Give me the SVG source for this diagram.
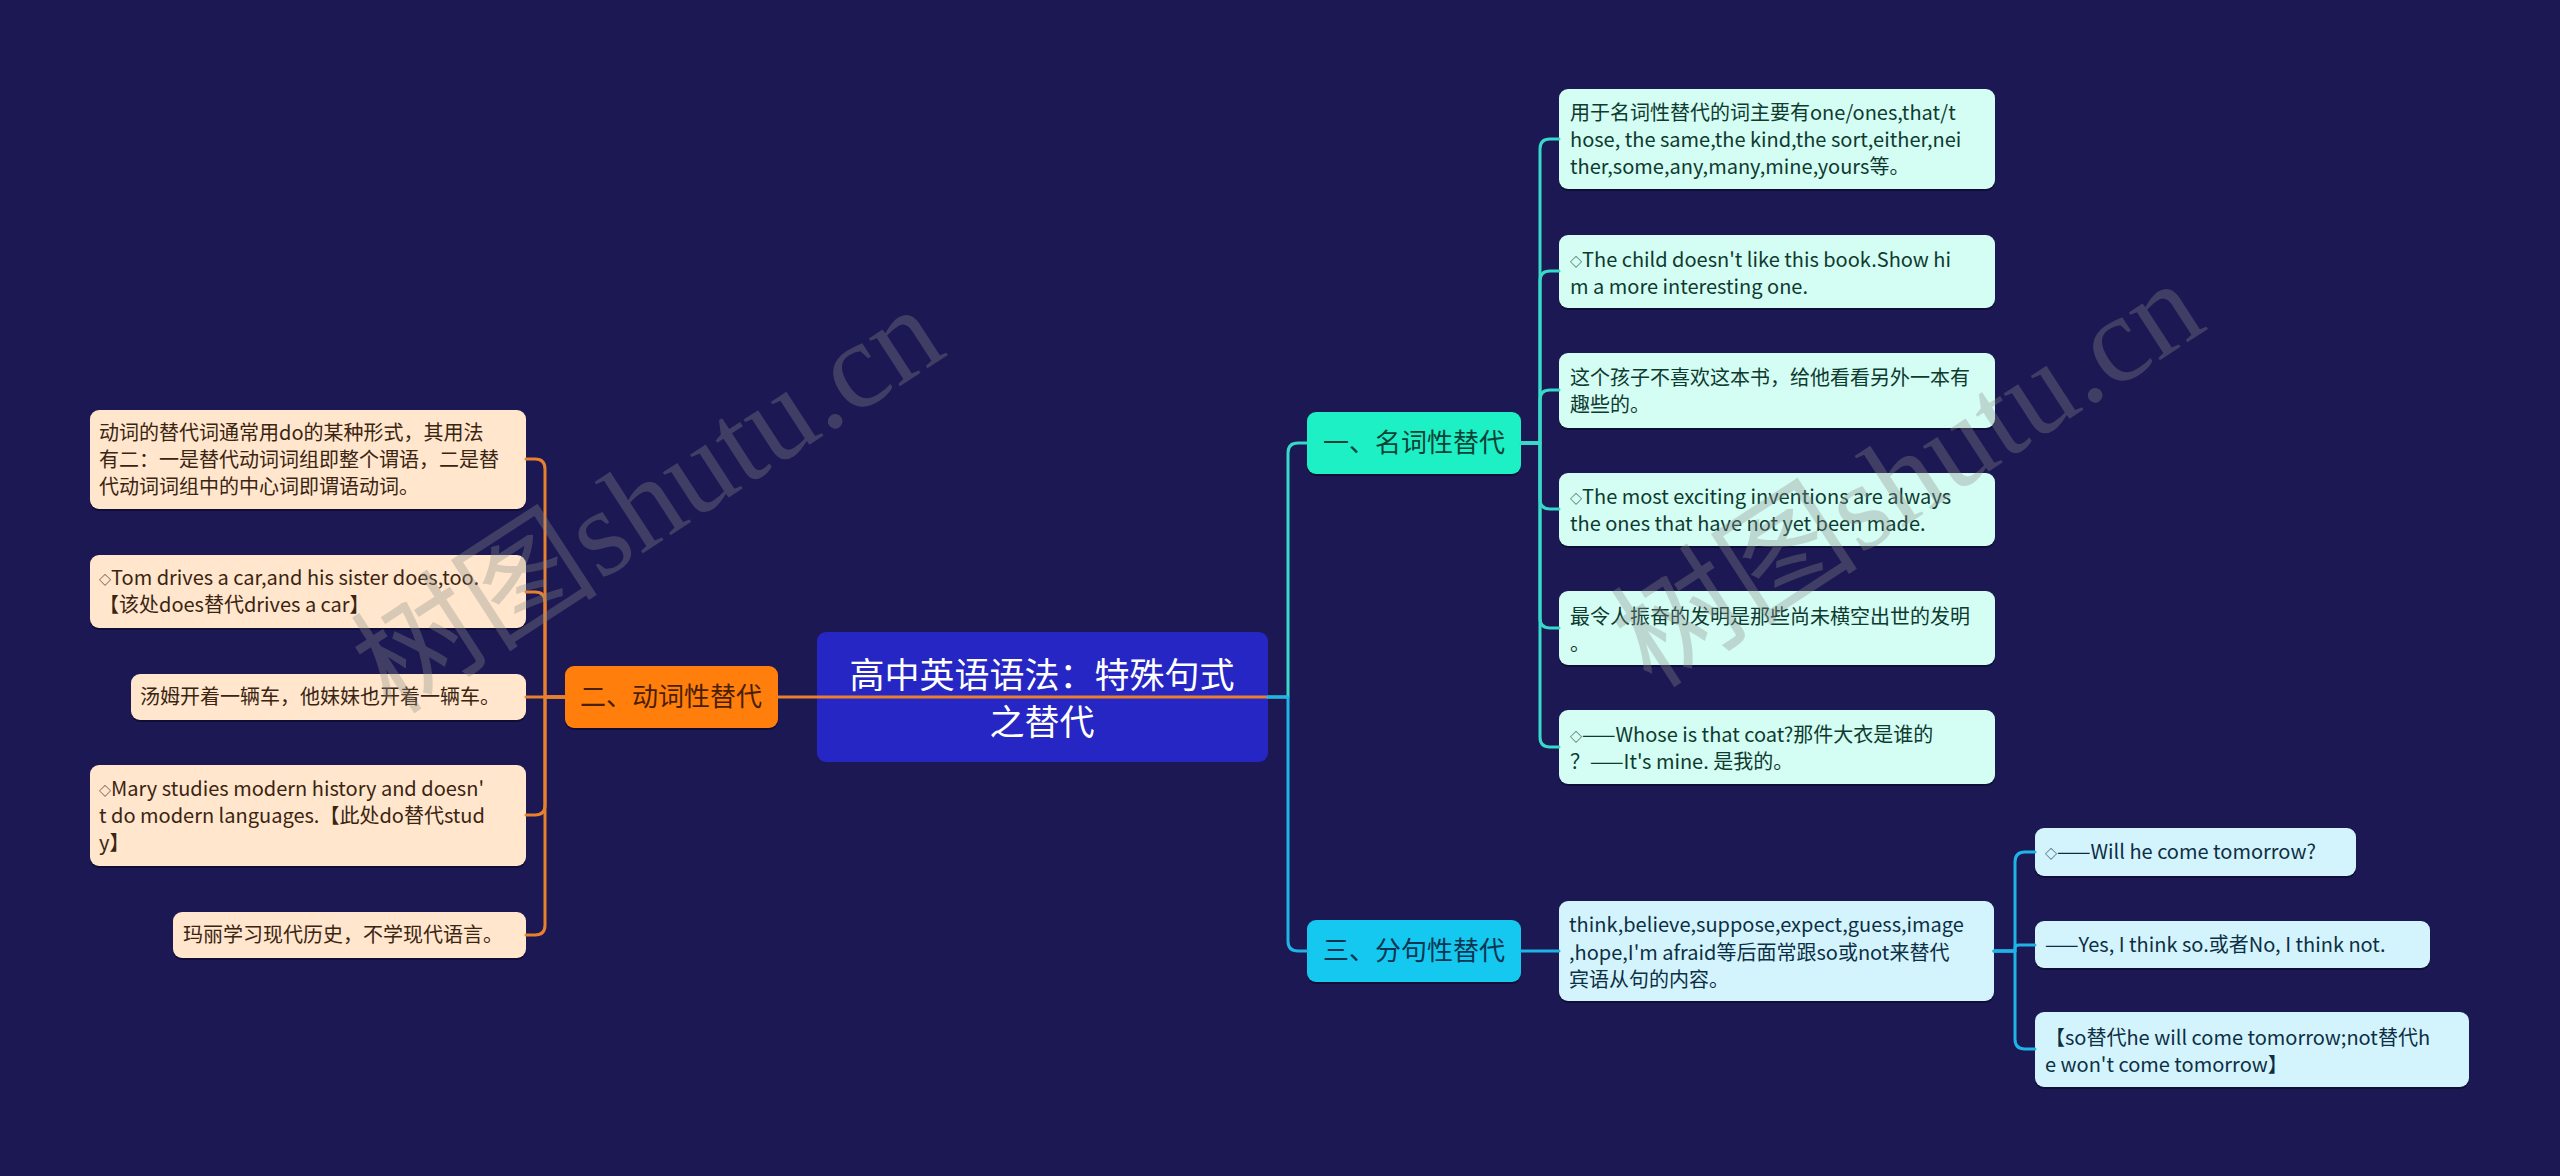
<svg xmlns="http://www.w3.org/2000/svg" width="2560" height="1176" viewBox="0 0 2560 1176">
<style>
text{font-family:"Noto Sans CJK SC","Noto Sans",sans-serif;}
.sh{fill:#0c0a2e;opacity:0.7;}
.lf{fill:#FFE6CC;}
.lt{fill:#3a2412;font-size:20px;}
.rf{fill:#D4FDF3;}
.rt{fill:#0e3a30;font-size:20px;}
.sf{fill:#D4F4FD;}
.st{fill:#0d2f44;font-size:20px;}
.bt{font-size:26px;text-anchor:middle;}
.dm{font-size:12px;}
.co{fill:none;stroke-width:3;stroke-linecap:round;stroke-linejoin:round;}
.or{stroke:#E8802E;}
.tq{stroke:#38D9C9;}
.bl{stroke:#1EB4E6;}
.wm{font-family:"Liberation Serif","Noto Sans CJK SC",serif;font-size:124px;fill:#8c8c8c;opacity:0.33;}
</style>
<rect x="0" y="0" width="2560" height="1176" fill="#1B1853"/>

<g id="center">
<rect x="817" y="632" width="451" height="130" rx="9" fill="#2626C4"/>
<text x="1042" y="688" font-size="35" fill="#ffffff" text-anchor="middle">高中英语语法：特殊句式</text>
<text x="1042" y="735" font-size="35" fill="#ffffff" text-anchor="middle">之替代</text>
</g>

<g id="b2">
<rect class="sh" x="565" y="668" width="213" height="62" rx="9"/>
<rect x="565" y="666" width="213" height="62" rx="9" fill="#FF7E0C"/>
<text class="bt" x="671" y="706" fill="#4a1e00">二、动词性替代</text>
</g>
<g id="b1">
<rect class="sh" x="1307" y="414" width="214" height="62" rx="9"/>
<rect x="1307" y="412" width="214" height="62" rx="9" fill="#1DF0C4"/>
<text class="bt" x="1414" y="452" fill="#0e4236">一、名词性替代</text>
</g>
<g id="b3">
<rect class="sh" x="1307" y="922" width="214" height="62" rx="9"/>
<rect x="1307" y="920" width="214" height="62" rx="9" fill="#14C8F0"/>
<text class="bt" x="1414" y="960" fill="#0b3550">三、分句性替代</text>
</g>

<g id="L1">
<rect class="sh" x="90" y="412" width="436" height="99" rx="9"/>
<rect class="lf" x="90" y="410" width="436" height="99" rx="9"/>
<text class="lt" x="99" y="440">动词的替代词通常用do的某种形式，其用法</text>
<text class="lt" x="99" y="467">有二：一是替代动词词组即整个谓语，二是替</text>
<text class="lt" x="99" y="494">代动词词组中的中心词即谓语动词。</text>
</g>
<g id="L2">
<rect class="sh" x="90" y="557" width="436" height="73" rx="9"/>
<rect class="lf" x="90" y="555" width="436" height="73" rx="9"/>
<text class="lt" x="99" y="585"><tspan class="dm">◇</tspan>Tom drives a car,and his sister does,too.</text>
<text class="lt" x="99" y="612">【该处does替代drives a car】</text>
</g>
<g id="L3">
<rect class="sh" x="131" y="676" width="395" height="46" rx="9"/>
<rect class="lf" x="131" y="674" width="395" height="46" rx="9"/>
<text class="lt" x="140" y="704">汤姆开着一辆车，他妹妹也开着一辆车。</text>
</g>
<g id="L4">
<rect class="sh" x="90" y="767" width="436" height="101" rx="9"/>
<rect class="lf" x="90" y="765" width="436" height="101" rx="9"/>
<text class="lt" x="99" y="796"><tspan class="dm">◇</tspan>Mary studies modern history and doesn'</text>
<text class="lt" x="99" y="823">t do modern languages.【此处do替代stud</text>
<text class="lt" x="99" y="850">y】</text>
</g>
<g id="L5">
<rect class="sh" x="173" y="914" width="353" height="46" rx="9"/>
<rect class="lf" x="173" y="912" width="353" height="46" rx="9"/>
<text class="lt" x="183" y="942">玛丽学习现代历史，不学现代语言。</text>
</g>

<g id="R1">
<rect class="sh" x="1559" y="91" width="436" height="100" rx="9"/>
<rect class="rf" x="1559" y="89" width="436" height="100" rx="9"/>
<text class="rt" x="1570" y="120">用于名词性替代的词主要有one/ones,that/t</text>
<text class="rt" x="1570" y="147">hose, the same,the kind,the sort,either,nei</text>
<text class="rt" x="1570" y="174">ther,some,any,many,mine,yours等。</text>
</g>
<g id="R2">
<rect class="sh" x="1559" y="237" width="436" height="73" rx="9"/>
<rect class="rf" x="1559" y="235" width="436" height="73" rx="9"/>
<text class="rt" x="1570" y="267"><tspan class="dm">◇</tspan>The child doesn't like this book.Show hi</text>
<text class="rt" x="1570" y="294">m a more interesting one.</text>
</g>
<g id="R3">
<rect class="sh" x="1559" y="355" width="436" height="75" rx="9"/>
<rect class="rf" x="1559" y="353" width="436" height="75" rx="9"/>
<text class="rt" x="1570" y="385">这个孩子不喜欢这本书，给他看看另外一本有</text>
<text class="rt" x="1570" y="412">趣些的。</text>
</g>
<g id="R4">
<rect class="sh" x="1559" y="475" width="436" height="73" rx="9"/>
<rect class="rf" x="1559" y="473" width="436" height="73" rx="9"/>
<text class="rt" x="1570" y="504"><tspan class="dm">◇</tspan>The most exciting inventions are always</text>
<text class="rt" x="1570" y="531">the ones that have not yet been made.</text>
</g>
<g id="R5">
<rect class="sh" x="1559" y="593" width="436" height="74" rx="9"/>
<rect class="rf" x="1559" y="591" width="436" height="74" rx="9"/>
<text class="rt" x="1570" y="624">最令人振奋的发明是那些尚未横空出世的发明</text>
<text class="rt" x="1570" y="651">。</text>
</g>
<g id="R6">
<rect class="sh" x="1559" y="712" width="436" height="74" rx="9"/>
<rect class="rf" x="1559" y="710" width="436" height="74" rx="9"/>
<text class="rt" x="1570" y="742"><tspan class="dm">◇</tspan>——Whose is that coat?那件大衣是谁的</text>
<text class="rt" x="1570" y="769">？——It's mine. 是我的。</text>
</g>

<g id="S1">
<rect class="sh" x="1559" y="903" width="435" height="100" rx="9"/>
<rect class="sf" x="1559" y="901" width="435" height="100" rx="9"/>
<text class="st" x="1569" y="932">think,believe,suppose,expect,guess,image</text>
<text class="st" x="1569" y="960">,hope,I'm afraid等后面常跟so或not来替代</text>
<text class="st" x="1569" y="987">宾语从句的内容。</text>
</g>
<g id="T1">
<rect class="sh" x="2035" y="830" width="321" height="48" rx="9"/>
<rect class="sf" x="2035" y="828" width="321" height="48" rx="9"/>
<text class="st" x="2045" y="859"><tspan class="dm">◇</tspan>——Will he come tomorrow?</text>
</g>
<g id="T2">
<rect class="sh" x="2035" y="923" width="395" height="47" rx="9"/>
<rect class="sf" x="2035" y="921" width="395" height="47" rx="9"/>
<text class="st" x="2045" y="952">——Yes, I think so.或者No, I think not.</text>
</g>
<g id="T3">
<rect class="sh" x="2035" y="1014" width="434" height="75" rx="9"/>
<rect class="sf" x="2035" y="1012" width="434" height="75" rx="9"/>
<text class="st" x="2045" y="1045">【so替代he will come tomorrow;not替代h</text>
<text class="st" x="2045" y="1072">e won't come tomorrow】</text>
</g>

<g id="connectors">
<path class="co or" d="M565 697 H545 V469 Q545 459 535 459 H526"/>
<path class="co or" d="M565 697 H545 V602 Q545 592 535 592 H526"/>
<path class="co or" d="M565 697 H526"/>
<path class="co or" d="M565 697 H545 V805 Q545 815 535 815 H526"/>
<path class="co or" d="M565 697 H545 V925 Q545 935 535 935 H526"/>
<path class="co or" d="M778 697 H1268"/>
<path class="co tq" d="M1268 697 H1288 V453 Q1288 443 1298 443 H1307"/>
<path class="co tq" d="M1521 443 H1540 V149 Q1540 139 1550 139 H1559"/>
<path class="co tq" d="M1521 443 H1540 V281 Q1540 271 1550 271 H1559"/>
<path class="co tq" d="M1521 443 H1540 V400 Q1540 390 1550 390 H1559"/>
<path class="co tq" d="M1521 443 H1540 V499 Q1540 509 1550 509 H1559"/>
<path class="co tq" d="M1521 443 H1540 V618 Q1540 628 1550 628 H1559"/>
<path class="co tq" d="M1521 443 H1540 V737 Q1540 747 1550 747 H1559"/>
<path class="co bl" d="M1268 697 H1288 V941 Q1288 951 1298 951 H1307"/>
<path class="co bl" d="M1521 951 H1559"/>
<path class="co bl" d="M1994 951 H2015 V862 Q2015 852 2025 852 H2035"/>
<path class="co bl" d="M1994 951 H2015 V948 Q2015 945 2019 945 H2035"/>
<path class="co bl" d="M1994 951 H2015 V1039 Q2015 1049 2025 1049 H2035"/>
</g>

<text class="wm" transform="translate(392,716) rotate(-33)">树图shutu.cn</text>
<text class="wm" transform="translate(1652,690) rotate(-33)">树图shutu.cn</text>
</svg>
